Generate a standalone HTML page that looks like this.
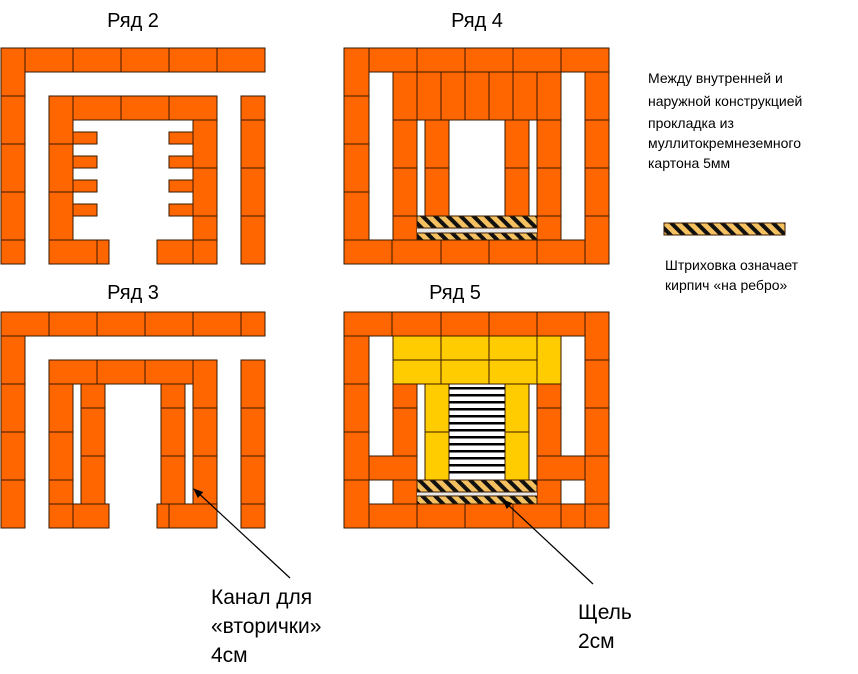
<!DOCTYPE html>
<html><head><meta charset="utf-8"><style>
html,body{margin:0;padding:0;background:#fff;}
svg{display:block;font-family:"Liberation Sans",sans-serif;}
.o rect{fill:#ff6600;stroke:#3a1a00;stroke-width:1;}
.y rect{fill:#ffcc00;stroke:#3a1a00;stroke-width:1;}
.h rect{fill:url(#hat);stroke:#3a1a00;stroke-width:1;}
</style></head><body>
<svg width="858" height="674" viewBox="0 0 858 674" xmlns="http://www.w3.org/2000/svg">
<defs>
<pattern id="hat" width="9" height="9" patternUnits="userSpaceOnUse" patternTransform="rotate(-45)">
<rect width="9" height="9" fill="#f5c060"/><rect width="4" height="9" fill="#111"/>
</pattern>
<marker id="ar" markerWidth="10" markerHeight="10" refX="9" refY="5" orient="auto" markerUnits="userSpaceOnUse">
<path d="M0,1 L10,5 L0,9 z" fill="#000"/>
</marker>
</defs>
<g font-size="20" text-anchor="middle" fill="#000">
<text x="133" y="27">Ряд 2</text>
<text x="477" y="27">Ряд 4</text>
<text x="133" y="299">Ряд 3</text>
<text x="455" y="299">Ряд 5</text>
</g>
<!-- Ряд 2 -->
<g class="o">
<rect x="1" y="48" width="24" height="48"/><rect x="1" y="96" width="24" height="48"/><rect x="1" y="144" width="24" height="48"/><rect x="1" y="192" width="24" height="48"/><rect x="1" y="240" width="24" height="24"/>
<rect x="25" y="48" width="48" height="24"/><rect x="73" y="48" width="48" height="24"/><rect x="121" y="48" width="48" height="24"/><rect x="169" y="48" width="48" height="24"/><rect x="217" y="48" width="48" height="24"/>
<rect x="241" y="96" width="24" height="24"/><rect x="241" y="120" width="24" height="48"/><rect x="241" y="168" width="24" height="48"/><rect x="241" y="216" width="24" height="48"/>
<rect x="49" y="96" width="24" height="48"/><rect x="49" y="144" width="24" height="48"/><rect x="49" y="192" width="24" height="48"/><rect x="49" y="240" width="48" height="24"/><rect x="97" y="240" width="12" height="24"/>
<rect x="73" y="96" width="48" height="24"/><rect x="121" y="96" width="48" height="24"/><rect x="169" y="96" width="48" height="24"/>
<rect x="193" y="120" width="24" height="48"/><rect x="193" y="168" width="24" height="48"/><rect x="193" y="216" width="24" height="24"/><rect x="193" y="240" width="24" height="24"/><rect x="157" y="240" width="36" height="24"/>
<rect x="73" y="132" width="24" height="12"/><rect x="73" y="156" width="24" height="12"/><rect x="73" y="180" width="24" height="12"/><rect x="73" y="204" width="24" height="12"/>
<rect x="169" y="132" width="24" height="12"/><rect x="169" y="156" width="24" height="12"/><rect x="169" y="180" width="24" height="12"/><rect x="169" y="204" width="24" height="12"/>
</g>
<!-- Ряд 4 -->
<g class="o">
<rect x="344" y="48" width="25" height="48"/><rect x="344" y="96" width="25" height="48"/><rect x="344" y="144" width="25" height="48"/><rect x="344" y="192" width="25" height="48"/>
<rect x="369" y="48" width="48" height="24"/><rect x="417" y="48" width="48" height="24"/><rect x="465" y="48" width="48" height="24"/><rect x="513" y="48" width="48" height="24"/><rect x="561" y="48" width="48" height="24"/>
<rect x="585" y="72" width="24" height="48"/><rect x="585" y="120" width="24" height="48"/><rect x="585" y="168" width="24" height="48"/><rect x="585" y="216" width="24" height="48"/>
<rect x="344" y="240" width="48" height="24"/><rect x="392" y="240" width="49" height="24"/><rect x="441" y="240" width="48" height="24"/><rect x="489" y="240" width="48" height="24"/><rect x="537" y="240" width="48" height="24"/>
<rect x="393" y="72" width="24" height="48"/><rect x="417" y="72" width="24" height="48"/><rect x="441" y="72" width="24" height="48"/><rect x="465" y="72" width="24" height="48"/><rect x="489" y="72" width="24" height="48"/><rect x="513" y="72" width="24" height="48"/><rect x="537" y="72" width="24" height="48"/>
<rect x="393" y="120" width="24" height="48"/><rect x="393" y="168" width="24" height="48"/><rect x="393" y="216" width="24" height="24"/>
<rect x="537" y="120" width="24" height="48"/><rect x="537" y="168" width="24" height="48"/><rect x="537" y="216" width="24" height="24"/>
<rect x="425" y="120" width="24" height="48"/><rect x="425" y="168" width="24" height="48"/><rect x="505" y="120" width="24" height="48"/><rect x="505" y="168" width="24" height="48"/>
</g>
<rect x="417" y="228" width="120" height="5" fill="#e8e8e8"/>
<g class="h"><rect x="417" y="216" width="120" height="12"/><rect x="417" y="233" width="120" height="7"/></g>
<!-- Ряд 3 -->
<g class="o">
<rect x="1" y="312" width="48" height="24"/><rect x="49" y="312" width="48" height="24"/><rect x="97" y="312" width="48" height="24"/><rect x="145" y="312" width="48" height="24"/><rect x="193" y="312" width="48" height="24"/><rect x="241" y="312" width="24" height="24"/>
<rect x="1" y="336" width="24" height="48"/><rect x="1" y="384" width="24" height="48"/><rect x="1" y="432" width="24" height="48"/><rect x="1" y="480" width="24" height="48"/>
<rect x="241" y="360" width="24" height="48"/><rect x="241" y="408" width="24" height="48"/><rect x="241" y="456" width="24" height="48"/><rect x="241" y="504" width="24" height="24"/>
<rect x="49" y="360" width="48" height="24"/><rect x="97" y="360" width="48" height="24"/><rect x="145" y="360" width="48" height="24"/>
<rect x="193" y="360" width="24" height="48"/><rect x="193" y="408" width="24" height="48"/><rect x="193" y="456" width="24" height="48"/>
<rect x="49" y="384" width="24" height="48"/><rect x="49" y="432" width="24" height="48"/><rect x="49" y="480" width="24" height="24"/><rect x="49" y="504" width="24" height="24"/><rect x="73" y="504" width="36" height="24"/>
<rect x="81" y="384" width="24" height="24"/><rect x="81" y="408" width="24" height="48"/><rect x="81" y="456" width="24" height="48"/>
<rect x="161" y="384" width="24" height="24"/><rect x="161" y="408" width="24" height="48"/><rect x="161" y="456" width="24" height="48"/>
<rect x="157" y="504" width="12" height="24"/><rect x="169" y="504" width="48" height="24"/>
</g>
<!-- Ряд 5 -->
<g class="o">
<rect x="344" y="312" width="48" height="24"/><rect x="392" y="312" width="49" height="24"/><rect x="441" y="312" width="48" height="24"/><rect x="489" y="312" width="48" height="24"/><rect x="537" y="312" width="48" height="24"/>
<rect x="585" y="312" width="24" height="48"/><rect x="585" y="360" width="24" height="48"/><rect x="585" y="408" width="24" height="48"/><rect x="585" y="456" width="24" height="48"/><rect x="585" y="504" width="24" height="24"/>
<rect x="344" y="336" width="25" height="48"/><rect x="344" y="384" width="25" height="48"/><rect x="344" y="432" width="25" height="48"/><rect x="344" y="480" width="25" height="48"/>
<rect x="369" y="504" width="48" height="24"/><rect x="417" y="504" width="48" height="24"/><rect x="465" y="504" width="48" height="24"/><rect x="513" y="504" width="48" height="24"/><rect x="561" y="504" width="24" height="24"/>
<rect x="393" y="384" width="24" height="24"/><rect x="393" y="408" width="24" height="48"/><rect x="537" y="384" width="24" height="24"/><rect x="537" y="408" width="24" height="48"/>
<rect x="369" y="456" width="48" height="24"/><rect x="537" y="456" width="48" height="24"/><rect x="393" y="480" width="24" height="24"/><rect x="537" y="480" width="24" height="24"/>
</g>
<g class="y">
<rect x="393" y="336" width="48" height="24"/><rect x="441" y="336" width="48" height="24"/><rect x="489" y="336" width="48" height="24"/>
<rect x="393" y="360" width="48" height="24"/><rect x="441" y="360" width="48" height="24"/><rect x="489" y="360" width="48" height="24"/>
<rect x="537" y="336" width="24" height="48"/>
<rect x="425" y="384" width="24" height="48"/><rect x="425" y="432" width="24" height="48"/><rect x="505" y="384" width="24" height="48"/><rect x="505" y="432" width="24" height="48"/>
</g>
<g fill="#000">
<rect x="449" y="387" width="56" height="2.5"/><rect x="449" y="394" width="56" height="2.5"/><rect x="449" y="401" width="56" height="2.5"/><rect x="449" y="408" width="56" height="2.5"/><rect x="449" y="415" width="56" height="2.5"/><rect x="449" y="422" width="56" height="2.5"/><rect x="449" y="429" width="56" height="2.5"/><rect x="449" y="436" width="56" height="2.5"/><rect x="449" y="443" width="56" height="2.5"/><rect x="449" y="450" width="56" height="2.5"/><rect x="449" y="457" width="56" height="2.5"/><rect x="449" y="464" width="56" height="2.5"/><rect x="449" y="471" width="56" height="2.5"/>
</g>
<rect x="417" y="492" width="120" height="4" fill="#e8e8e8"/>
<g class="h"><rect x="417" y="480" width="120" height="12"/><rect x="417" y="496" width="120" height="8"/></g>
<!-- legend -->
<g font-size="14" fill="#000">
<text x="648" y="83">Между внутренней и</text>
<text x="648" y="106">наружной конструкцией</text>
<text x="648" y="128">прокладка из</text>
<text x="648" y="148">муллитокремнеземного</text>
<text x="648" y="168">картона 5мм</text>
<text x="665" y="270">Штриховка означает</text>
<text x="665" y="290">кирпич «на ребро»</text>
</g>
<g class="h"><rect x="664" y="223" width="121" height="12"/></g>
<!-- arrows -->
<line x1="290" y1="578" x2="194" y2="489" stroke="#000" stroke-width="1.2" marker-end="url(#ar)"/>
<line x1="593" y1="584" x2="503" y2="500" stroke="#000" stroke-width="1.2" marker-end="url(#ar)"/>
<g font-size="21" fill="#000">
<text x="211" y="604">Канал для</text>
<text x="211" y="633">«вторички»</text>
<text x="211" y="662">4см</text>
<text x="578" y="619">Щель</text>
<text x="578" y="648">2см</text>
</g>
</svg>
</body></html>
